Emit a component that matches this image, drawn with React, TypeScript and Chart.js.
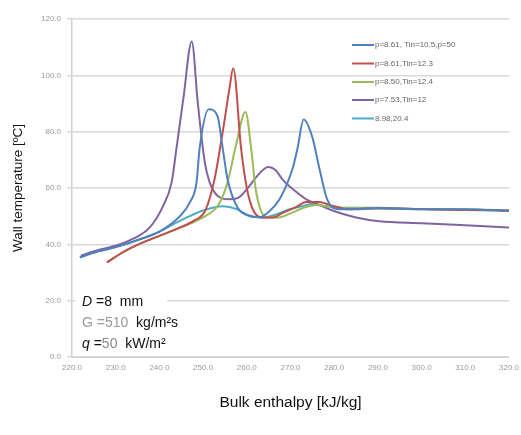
import React, { useEffect, useRef } from "react";
import { Chart, registerables } from "chart.js";

Chart.register(...registerables);

// ---- data ----
const seriesLabels = [
  "p=8.61, Tin=10.5,p=50",
  "p=8.61,Tin=12.3",
  "p=8.50,Tin=12.4",
  "p=7.53,Tin=12",
  "8.98,20.4",
];
const seriesColors = ["#4F81BD", "#C0504D", "#9BBB59", "#8064A2", "#4BACC6"];

const blueH = [221.8, 226, 230, 235, 240, 244.7, 247, 248.5, 249.2, 251.3, 253.3, 254.5, 255.6, 257.9, 260, 262.9, 265, 267.5, 270.5, 271.6, 273, 275, 276.6, 278.4, 281.2, 285, 290, 300, 310, 320];
const blueT = [35.4, 37.5, 39, 41.5, 44.5, 50, 55, 62, 74, 88, 85.5, 74, 63, 53, 50.5, 49.6, 51.5, 56, 67, 74, 84.3, 78, 67, 56, 52.5, 52.5, 52.8, 52.5, 52.5, 51.8];

const redH = [228, 232, 236, 240, 244, 248, 250.5, 252.6, 254.5, 256, 256.9, 258.7, 260, 261.5, 263.5, 266, 268, 271, 273.6, 276.6, 279, 283, 290, 300, 310, 320];
const redT = [33.6, 37.5, 40.5, 43, 45.5, 48.5, 52, 63, 80, 95, 102.5, 74, 60, 52, 49.5, 49.5, 51, 53, 55, 55, 54, 52.5, 52.8, 52.5, 52.2, 52];

const greenH = [228, 232, 236, 240, 244, 248, 251, 253.5, 255.6, 257.5, 259.7, 261, 262, 263, 264.5, 267, 270, 273, 276, 280, 290, 300, 310, 320];
const greenT = [33.6, 37.5, 40.5, 43, 45.5, 48, 50.5, 54, 62, 75, 87, 74, 60, 53, 49.5, 49.5, 51, 53, 54, 53, 52.8, 52.5, 52.5, 52];

const purpleH = [222, 226, 230, 234, 237.8, 240.8, 242.8, 243.9, 245.5, 247.4, 248.8, 250.4, 251.5, 253.5, 256, 258, 260.6, 262.5, 264.9, 266.5, 268.2, 271, 273.6, 276.6, 279.6, 285, 290.3, 300, 310, 320];
const purpleT = [36, 38, 39.5, 42, 46, 53.5, 62, 74, 92, 112, 90, 69, 62, 57, 56, 56.5, 60.7, 64.5, 67.5, 66.5, 63, 59, 56, 54, 52, 49.5, 48.2, 47.5, 46.8, 46];

const cyanH = [221.8, 226, 230, 235.5, 240, 243, 246.9, 250, 254.5, 257.7, 260.6, 263.6, 266.5, 269.8, 272.5, 275, 278, 282, 290, 300, 310, 320];
const cyanT = [35.4, 37.5, 39, 41.8, 44.5, 47, 50, 52, 53.5, 52.5, 50, 49.5, 50.5, 52.5, 53.5, 54.3, 53.5, 53, 53, 52.5, 52.2, 52];

const seriesH = [blueH, redH, greenH, purpleH, cyanH];
const seriesT = [blueT, redT, greenT, purpleT, cyanT];

const xTitle = "Bulk enthalpy [kJ/kg]";
const yTitle = "Wall temperature [ºC]";
const FONT = "'Liberation Sans', Arial, sans-serif";

const overlayPlugin = {
  id: "overlay",
  afterDraw(chart: any) {
    const ctx = chart.ctx;
    ctx.save();
    // legend
    ctx.font = `8px ${FONT}`;
    ctx.textBaseline = "middle";
    ctx.textAlign = "left";
    const rows = [45, 63.5, 82, 100, 118.5];
    chart.data.datasets.forEach((ds: any, i: number) => {
      const y = rows[i];
      ctx.strokeStyle = ds.borderColor;
      ctx.lineWidth = 2;
      ctx.beginPath();
      ctx.moveTo(352, y);
      ctx.lineTo(374, y);
      ctx.stroke();
      ctx.fillStyle = "#666";
      ctx.fillText(ds.label, 375, y);
    });
    // annotation box
    ctx.fillStyle = "#ffffff";
    ctx.fillRect(75, 293, 92, 14);
    ctx.fillRect(75, 307, 146, 49);
    ctx.textBaseline = "alphabetic";
    const drawParts = (x: number, y: number, parts: [string, string, string][]) => {
      let cx = x;
      parts.forEach(([t, style, color]) => {
        ctx.font = `${style} 14px ${FONT}`;
        ctx.fillStyle = color;
        ctx.fillText(t, cx, y);
        cx += ctx.measureText(t).width;
      });
    };
    drawParts(82, 306, [["D", "italic", "#111"], [" =8  mm", "normal", "#111"]]);
    drawParts(82, 327, [["G =510 ", "normal", "#999"], [" kg/m²s", "normal", "#111"]]);
    drawParts(82, 348, [["q", "italic", "#111"], [" =", "normal", "#111"], ["50", "normal", "#888"], ["  kW/m²", "normal", "#111"]]);
    ctx.restore();
  },
};

export default function App() {
  const ref = useRef<HTMLCanvasElement | null>(null);
  useEffect(() => {
    if (!ref.current) return;
    const datasets = seriesLabels.map((label, i) => ({
      label,
      data: seriesH[i].map((h, j) => ({ x: h, y: seriesT[i][j] })),
      borderColor: seriesColors[i],
      backgroundColor: seriesColors[i],
      borderWidth: 2,
      pointRadius: 0,
      fill: false,
      cubicInterpolationMode: "monotone" as const,
    }));
    const chart = new Chart(ref.current, {
      type: "line",
      data: { datasets },
      plugins: [overlayPlugin],
      options: {
        animation: false,
        responsive: false,
        devicePixelRatio: 1,
        layout: { padding: { top: 19, right: 11, left: 0, bottom: 0 } },
        plugins: { legend: { display: false }, tooltip: { enabled: false } },
        scales: {
          x: {
            type: "linear",
            min: 220,
            max: 320,
            afterFit: (s: any) => { s.height = 78; },
            ticks: {
              stepSize: 10,
              callback: (v: any) => Number(v).toFixed(1),
              font: { size: 8, family: FONT },
              color: "#9a9a9a",
              padding: 2,
              maxRotation: 0,
            },
            grid: { display: false, drawTicks: true, tickLength: 4 },
            border: { display: true, color: "#d0d0d0", width: 1 },
            title: {
              display: true,
              text: xTitle,
              font: { size: 15.5, family: FONT },
              color: "#111",
              padding: { top: 0, bottom: 23 },
            },
          },
          y: {
            min: 0,
            max: 120,
            afterFit: (s: any) => { s.width = 72; },
            ticks: {
              stepSize: 20,
              callback: (v: any) => Number(v).toFixed(1),
              font: { size: 8, family: FONT },
              color: "#9a9a9a",
              padding: 6,
            },
            grid: { color: "#d9d9d9", lineWidth: 1.5, tickLength: 5 },
            border: { display: true, color: "#d0d0d0", width: 1.5 },
            title: {
              display: true,
              text: yTitle,
              font: { size: 13.5, family: FONT },
              color: "#111",
              padding: { top: 10, bottom: 0 },
            },
          },
        },
      },
    });
    return () => chart.destroy();
  }, []);
  return (
    <div style={{ position: "fixed", left: 0, top: 0, width: 521, height: 435, background: "#fff" }}>
      <canvas ref={ref} width={521} height={435} style={{ width: 521, height: 435, display: "block" }} />
    </div>
  );
}
